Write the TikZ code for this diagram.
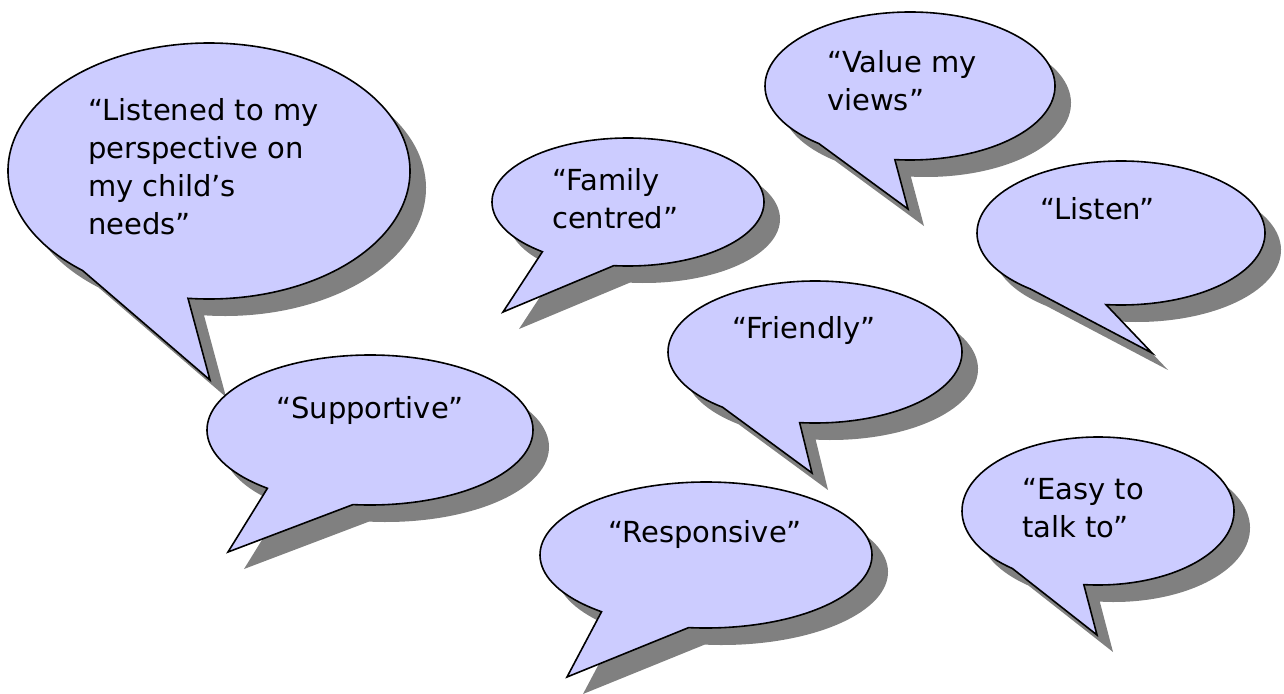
\documentclass[tikz,border=0pt]{standalone}
\usepackage{fontspec}
\setmainfont{DejaVu Sans}
\definecolor{bubblefill}{RGB}{204,204,255}
\definecolor{bubbleshade}{RGB}{128,128,128}
\tikzset{
  bubble/.style={draw=black, fill=bubblefill, line width=1.6pt, line join=miter},
  bubbleshadow/.style={fill=bubbleshade},
  saying/.style={anchor=base west, align=left, inner sep=0pt, font=\fontsize{29}{38}\selectfont}
}
\begin{document}
\begin{tikzpicture}[x=1pt, y=-1pt]
\useasboundingbox (0,0) rectangle (1284,693);
% speech bubbles: centre / radii / pointer tip, shadow first
\foreach \cx/\cy/\rx/\ry/\tx/\ty in {209/171/201/128/210/380, 370/430/163/75/228/552,
    628/202/136/64/503/312, 910/86/145/74/908/209, 1121/233/144/72/1152/353,
    815/352/147/71/812/473, 706/555/166/73/567/677, 1098/511/136/74/1097/635}{
  \fill[bubbleshadow, shift={(16,17)}] (\cx,\cy) ++({\rx*cos(129)},{\ry*sin(129)})
    arc[start angle=129, end angle=456, x radius=\rx, y radius=\ry] -- (\tx,\ty) -- cycle;
  \draw[bubble] (\cx,\cy) ++({\rx*cos(129)},{\ry*sin(129)})
    arc[start angle=129, end angle=456, x radius=\rx, y radius=\ry] -- (\tx,\ty) -- cycle;
}
% what the parents said (base = last line)
\node[saying] (listened) at (88,234) {“Listened to my\\perspective on\\my child’s\\needs”};
\node[saying] (supportive) at (276,418) {“Supportive”};
\node[saying] (family) at (552,228) {“Family\\centred”};
\node[saying] (value) at (827,110) {“Value my\\views”};
\node[saying] (listen) at (1040,219) {“Listen”};
\node[saying] (friendly) at (732,338) {“Friendly”};
\node[saying] (responsive) at (608,542) {“Responsive”};
\node[saying] (easy) at (1022,537) {“Easy to\\talk to”};
\end{tikzpicture}
\end{document}
